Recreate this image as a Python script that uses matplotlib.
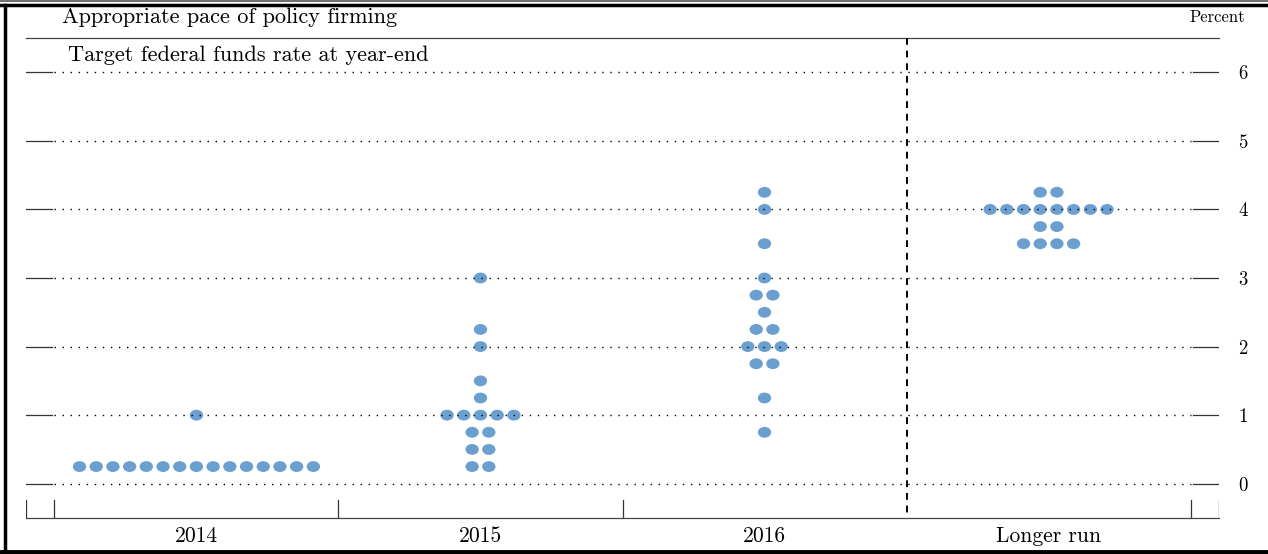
import numpy as np
import matplotlib
matplotlib.use('Agg')
from matplotlib import pyplot as plt
from matplotlib.collections import EllipseCollection
from matplotlib.lines import Line2D

plt.rcParams['font.family'] = ['cmr10', 'DejaVu Serif']
plt.rcParams['axes.unicode_minus'] = False

## Data: projected year-end rates and number of participants at each level
categories = ['2014', '2015', '2016', 'Longer run']
rates_2014 = [0.25, 1.0]
counts_2014 = [15, 1]
rates_2015 = [0.25, 0.5, 0.75, 1.0, 1.25, 1.5, 2.0, 2.25, 3.0]
counts_2015 = [2, 2, 2, 5, 1, 1, 1, 1, 1]
rates_2016 = [0.75, 1.25, 1.75, 2.0, 2.25, 2.5, 2.75, 3.0, 3.5, 4.0, 4.25]
counts_2016 = [1, 1, 2, 3, 2, 1, 2, 1, 1, 1, 1]
rates_lr = [3.5, 3.75, 4.0, 4.25]
counts_lr = [4, 2, 8, 2]
yticks = [0, 1, 2, 3, 4, 5, 6]

series = [(rates_2014, counts_2014), (rates_2015, counts_2015),
          (rates_2016, counts_2016), (rates_lr, counts_lr)]

dot_col = '#6b9fd0'
step = 0.0588  # horizontal spacing between dots (in category units)

fig = plt.figure(figsize=(12.68, 5.54), dpi=100)
ax = fig.add_axes([26/1268, 36/554, 1193/1268, 480/554])
ax.set_xlim(-0.6, 3.6)
ax.set_ylim(-0.5, 6.5)

# dots
xs, ys = [], []
for ci, (rates, counts) in enumerate(series):
    for r, n in zip(rates, counts):
        off = (np.arange(n) - (n - 1) / 2) * step
        xs.extend(ci + off)
        ys.extend([r] * n)
offs = np.column_stack([xs, ys])
ec = EllipseCollection(np.full(len(xs), 9.6), np.full(len(xs), 7.8), np.zeros(len(xs)),
                       units='points', offsets=offs, offset_transform=ax.transData,
                       facecolors=dot_col, edgecolors='none', zorder=2)
ax.add_collection(ec)

# gridlines: dotted in the middle, short solid ends
gcol = '#333333'
for v in yticks:
    ax.plot([-0.5, 3.5], [v, v], color='black', lw=1.0, ls=(0, (1, 4.8)), zorder=3)
    ax.plot([-0.6, -0.508], [v, v], color=gcol, lw=0.9, zorder=3)
    ax.plot([3.51, 3.6], [v, v], color=gcol, lw=0.9, zorder=3)

# separator before longer run
ax.plot([2.5, 2.5], [6.5, -0.5], color='black', lw=1.4, ls=(0, (3.5, 3)), zorder=3)

# bottom ticks
for xt in [-0.6, -0.5, 0.5, 1.5, 3.5, 3.6]:
    ax.plot([xt, xt], [-0.5, -0.24], color=gcol, lw=0.9)

for side in ['left', 'right']:
    ax.spines[side].set_visible(False)
for side in ['top', 'bottom']:
    ax.spines[side].set_color('#444444')
    ax.spines[side].set_linewidth(0.9)

ax.set_xticks(range(len(categories)))
ax.set_xticklabels(categories, fontsize=15.5)
ax.tick_params(axis='x', length=0, pad=6)
ax.yaxis.tick_right()
ax.set_yticks(yticks)
ax.set_yticklabels([str(v) for v in yticks], fontsize=13.5)
ax.tick_params(axis='y', length=0, pad=14)

fig.text(62/1268, 1 - 17/554, 'Appropriate pace of policy firming', fontsize=16, va='center', ha='left')
fig.text(68/1268, 1 - 55/554, 'Target federal funds rate at year-end', fontsize=16, va='center', ha='left')
fig.text(1245/1268, 1 - 17/554, 'Percent', fontsize=12, va='center', ha='right')

# outer frame
fig.add_artist(Line2D([0, 1], [1 - 1/554, 1 - 1/554], color='#555555', lw=1.2))
fig.add_artist(Line2D([0, 1], [1 - 5/554, 1 - 5/554], color='black', lw=2.5))
fig.add_artist(Line2D([4.5/1268, 4.5/1268], [0, 1 - 5/554], color='black', lw=2.5))
fig.add_artist(Line2D([0, 1], [2/554, 2/554], color='black', lw=3.5))

fig.savefig('out.png', dpi=100)
